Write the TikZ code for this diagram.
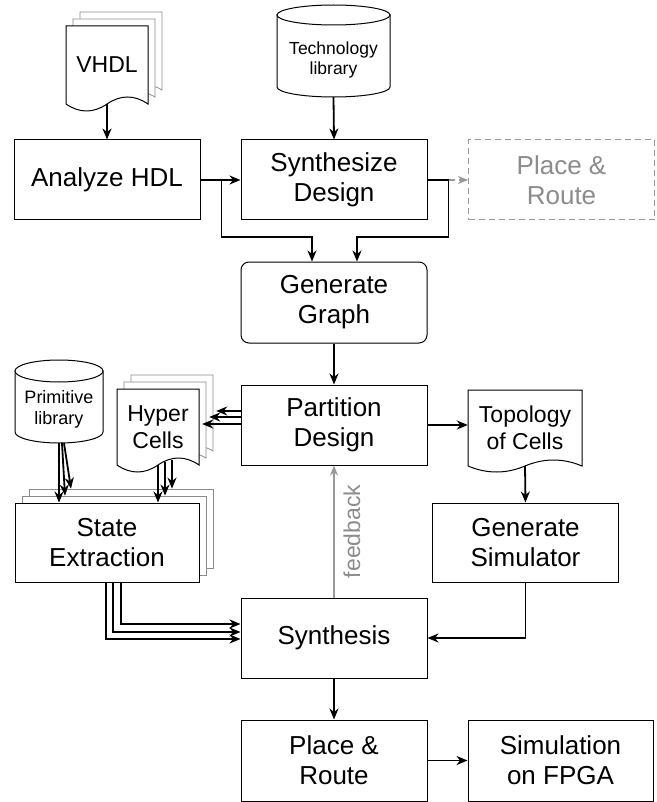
\documentclass[tikz,border=0pt]{standalone}
\usepackage{fontspec}
\setmainfont{Liberation Sans}
\usetikzlibrary{arrows.meta,calc}
% document (wavy bottom) outline: style, x0, x1, ytop, ycorner, amplitude
\newcommand\docshape[6]{%
  \pgfmathsetmacro\xmid{(#2+#3)/2}\pgfmathsetmacro\wsix{(#3-#2)/6}%
  \pgfmathsetmacro\yup{#5-4*#6/3}\pgfmathsetmacro\ydn{#5+4*#6/3}%
  \path[#1] (#2,#4) -- (#3,#4) -- (#3,#5)
    .. controls (#3-\wsix,\yup) and (\xmid+\wsix,\yup) .. (\xmid,#5)
    .. controls (\xmid-\wsix,\ydn) and (#2+\wsix,\ydn) .. (#2,#5) -- cycle;}
% cylinder outline: x0, x1, ytop, ybottom, ry
\newcommand\cylshape[5]{%
  \pgfmathsetmacro\cxa{(#1+#2)/2}\pgfmathsetmacro\rxa{(#2-#1)/2}%
  \pgfmathsetmacro\yta{#3+#5}\pgfmathsetmacro\yba{#4-#5}%
  \pgfmathsetmacro\kx{0.5523*\rxa}\pgfmathsetmacro\ky{0.5523*#5}%
  \path[shp] (#1,\yta) -- (#1,\yba)
    .. controls (#1,\yba+\ky) and (\cxa-\kx,#4) .. (\cxa,#4)
    .. controls (\cxa+\kx,#4) and (#2,\yba+\ky) .. (#2,\yba) -- (#2,\yta) -- cycle;
  \path[shp] (\cxa,\yta) ellipse [x radius=\rxa, y radius=#5];}
\begin{document}
\begin{tikzpicture}[x=1pt,y=-1pt,
  box/.style={draw, line width=1pt, fill=white, minimum width=186pt, minimum height=80pt,
    align=center, inner sep=0pt, font=\fontsize{26}{30}\selectfont},
  back/.style={draw=black!45, line width=0.8pt, fill=white},
  shp/.style={draw, line width=1pt, fill=white},
  ghost/.style={draw=black!40, dashed, dash pattern=on 6pt off 4pt, text=black!45},
  txtm/.style={align=center, inner sep=0pt, font=\fontsize{23}{27.5}\selectfont},
  txts/.style={align=center, inner sep=0pt, font=\fontsize{18}{21}\selectfont},
  txtxs/.style={align=center, inner sep=0pt, font=\fontsize{17.5}{20}\selectfont},
  holder/.style={inner sep=0pt},
  arr/.style={line width=1.8pt, -{Stealth[length=11pt,width=9pt,inset=3.5pt]}},
  ln/.style={line width=1.8pt},
  grayarr/.style={draw=black!40, line width=1.2pt, dashed, dash pattern=on 6pt off 4pt,
    -{Stealth[length=10pt,width=8pt,inset=3pt]}},
  fbarr/.style={draw=black!40, line width=1.2pt, -{Stealth[length=10pt,width=8pt,inset=3pt]}},
  fbtext/.style={inner sep=0pt, text=black!45, font=\fontsize{23}{27}\selectfont}
]
\useasboundingbox (0,0) rectangle (656,802);

% ---------- VHDL stack ----------
\docshape{back}{80}{162}{12}{90}{6}
\docshape{back}{73}{155}{19}{97}{6}
\docshape{shp}{66}{148}{26}{104}{7}
\node[txtm, minimum width=82pt, minimum height=78pt] (vhdl) at (107,65) {VHDL};

% ---------- Technology library ----------
\cylshape{277}{390}{5}{97}{10}
\node[holder, minimum width=113pt, minimum height=92pt] (tech) at (333.5,51) {};
\node[txtxs] (techlbl) at (333.5,60) {Technology\\library};

% ---------- main boxes ----------
\node[box] (analyze) at (107,180) {Analyze HDL};
\node[box] (synth) at (334,180) {Synthesize\\Design};
\node[box, ghost] (pr1) at (561.5,180) {Place \&\\Route};
\node[box, rounded corners=8pt, minimum height=81pt] (graph) at (334,302.5) {Generate\\Graph};
\node[box] (part) at (334,425) {Partition\\Design};

% ---------- Hyper Cells stack ----------
\docshape{back}{131}{213}{375}{451}{6}
\docshape{back}{124}{206}{382}{458}{6}
\docshape{shp}{117}{199}{389}{465}{7}
\node[txtm, minimum width=82pt, minimum height=76pt] (hyper) at (158,427) {Hyper\\Cells};

% ---------- Primitive library ----------
\cylshape{15}{103}{360}{443}{11}
\node[holder, minimum width=88pt, minimum height=83pt] (prim) at (59,401.5) {};
\node[txts] (primlbl) at (59,409) {Primitive\\library};

% ---------- Topology of Cells ----------
\docshape{shp}{468}{582}{390}{466}{6}
\node[txtm, minimum width=114pt, minimum height=76pt] (topo) at (525,428) {Topology\\of Cells};

% ---------- State Extraction stack ----------
\node[box, back, minimum width=184pt, minimum height=79pt] (state3) at (121,528.5) {};
\node[box, back, minimum width=184pt, minimum height=79pt] (state2) at (114,535.5) {};
\node[box, minimum width=184pt, minimum height=79pt] (state) at (107,542.5) {State\\Extraction};

\node[box, minimum height=79pt] (gensim) at (525.5,542.5) {Generate\\Simulator};
\node[box] (synthesis) at (334,638) {Synthesis};
\node[box, minimum height=81pt] (pr2) at (334,760.5) {Place \&\\Route};
\node[box, minimum width=185pt, minimum height=81pt] (sim) at (560.5,760.5) {Simulation\\on FPGA};

% ---------- connectors ----------
\draw[arr] (vhdl.south) -- (analyze.north);
\draw[arr] (tech.south) -- (synth.north);
\draw[arr] (analyze.east) -- (synth.west);
\coordinate (j1) at ($(analyze.east)+(21,0)$);
\draw[arr] (j1) -- ++(0,57) -| ($(graph.north)+(-22,0)$);
\draw[ln] (synth.east) -- ++(21,0) coordinate (j2);
\draw[grayarr] (j2) -- (pr1.west);
\draw[arr] (j2) -- ++(0,57) -| ($(graph.north)+(23,0)$);
\draw[arr] (graph.south) -- (part.north);

% Partition -> Hyper Cells (three pages)
\draw[arr] ($(part.west)+(0,-14)$) -- ($(hyper.east)+(17,-16)$);
\draw[arr] ($(part.west)+(0,-8)$) -- ($(hyper.east)+(10,-10)$);
\draw[arr] ($(part.west)+(0,-1)$) -- ($(hyper.east)+(3,-3)$);

% Partition -> Topology
\draw[arr] (part.east) -- (part.east -| topo.west);
\draw[arr] (topo.south) -- (gensim.north);

% Primitive library -> State Extraction pages
\coordinate (p1) at (prim.south);
\coordinate (p2) at ($(prim.south)+(3,0)$);
\coordinate (p3) at ($(prim.south)+(5,0)$);
\draw[arr] (p1) -- (p1 |- state.north);
\draw[arr] (p2) -- ($(state2.north)+(-49,0)$);
\draw[arr] (p3) -- ($(state3.north)+(-50,0)$);

% Hyper Cells -> State Extraction pages
\coordinate (h1) at (hyper.south);
\coordinate (h2) at ($(hyper.south)+(7,-3)$);
\coordinate (h3) at ($(hyper.south)+(14,-5)$);
\draw[arr] (h1) -- (h1 |- state.north);
\draw[arr] (h2) -- (h2 |- state2.north);
\draw[arr] (h3) -- (h3 |- state3.north);

% State Extraction -> Synthesis
\draw[arr] ($(state.south)+(-1,0)$) |- ($(synthesis.west)+(0,1)$);
\draw[arr] ($(state.south)+(6,0)$) |- ($(synthesis.west)+(0,-6)$);
\draw[arr] ($(state.south)+(14,0)$) |- ($(synthesis.west)+(0,-14)$);

% Generate Simulator -> Synthesis
\draw[arr] (gensim.south) |- (synthesis.east);

% feedback
\draw[fbarr] (synthesis.north) -- (part.south);
\node[fbtext, rotate=90] (fb) at ($(part.south)!0.5!(synthesis.north)+(18,0)$) {feedback};

% bottom
\draw[arr] (synthesis.south) -- (pr2.north);
\draw[arr] (pr2.east) -- (sim.west);
\end{tikzpicture}
\end{document}
